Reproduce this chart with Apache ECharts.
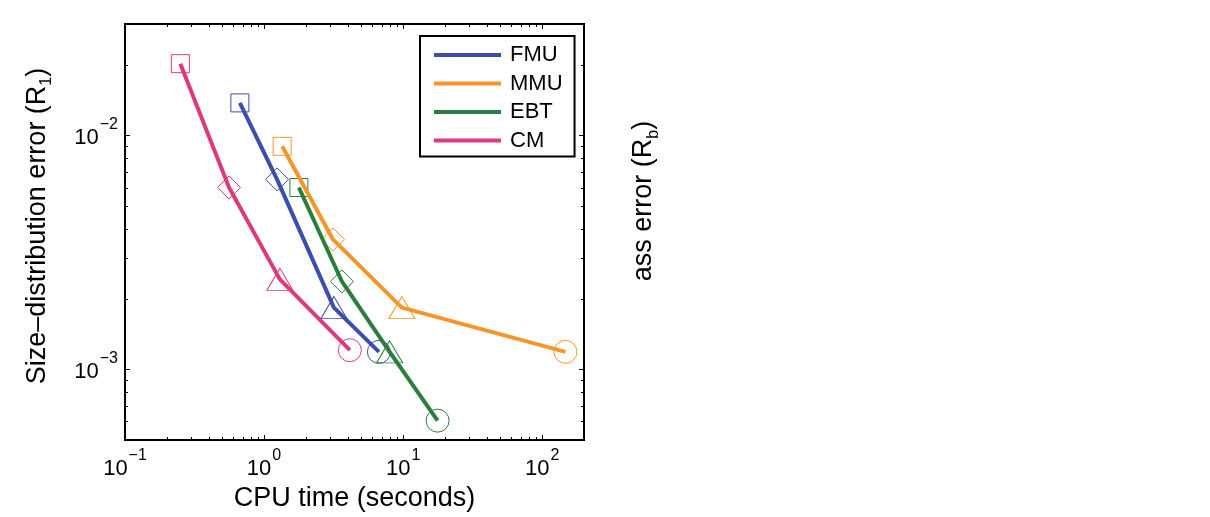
<!DOCTYPE html>
<html><head><meta charset="utf-8">
<script src="https://cdn.jsdelivr.net/npm/echarts@6/dist/echarts.min.js"></script>
<style>html,body{margin:0;padding:0;background:#fff}#c{width:1210px;height:517px}</style>
</head><body><div id="c"></div>
<script>
// ---- data ----
const methods = ['FMU', 'MMU', 'EBT', 'CM'];
const cpuFMU = [0.67, 1.24, 3.18, 6.7];
const errFMU = [0.0138, 0.0065, 0.00184, 0.00119];
const cpuMMU = [1.35, 3.13, 9.8, 147];
const errMMU = [0.0090, 0.0036, 0.00184, 0.00119];
const cpuEBT = [1.78, 3.63, 8.0, 17.7];
const errEBT = [0.0060, 0.00238, 0.00119, 0.000605];
const cpuCM = [0.25, 0.56, 1.30, 4.14];
const errCM = [0.0203, 0.0060, 0.00243, 0.00121];
const xTickExponents = [-1, 0, 1, 2];
const yTickExponents = [-3, -2];
const minorMultipliers = [2, 3, 4, 5, 6, 7, 8, 9];
const xLabel = 'CPU time (seconds)';
const yLabelMain = 'Size\u2013distribution error (R';
const yLabelSub = '1';
const y2LabelMain = 'ass error (R';
const y2LabelSub = 'b';

// ---- style ----
const FONT = '"Liberation Sans", Arial, Helvetica, sans-serif';
const colors = {FMU: '#3d4dab', MMU: '#f5962b', EBT: '#2b7d3e', CM: '#db3a7b'};
const stageSymbols = ['rect', 'diamond', 'triangle', 'circle'];
const stageSizes = [[18, 18], [23, 23], [26, 22], [23, 23]];
const X_MIN = 0.1, X_MAX = 200, Y_MIN = 5e-4, Y_MAX = 3e-2;

const seriesData = {
  FMU: [cpuFMU, errFMU], MMU: [cpuMMU, errMMU], EBT: [cpuEBT, errEBT], CM: [cpuCM, errCM]
};

function isPow(v, exps) {
  const l = Math.log10(v), e = Math.round(l);
  return Math.abs(l - e) < 1e-6 && exps.indexOf(e) >= 0 ? e : null;
}
function fmt(exps) {
  return function (v) {
    const e = isPow(v, exps);
    if (e === null) return '';
    return '{b|10}{s|' + String(e).replace('-', '\u2212') + '}';
  };
}
const tickRich = {
  b: {fontSize: 22, fontFamily: FONT, color: '#000', lineHeight: 32, verticalAlign: 'bottom'},
  s: {fontSize: 16, fontFamily: FONT, color: '#000', lineHeight: 16, verticalAlign: 'top', padding: [0, 0, 0, 1]}
};

const series = [];
methods.forEach(m => {
  const [xs, ys] = seriesData[m];
  series.push({
    name: m, type: 'line', symbol: 'none', xAxisIndex: 0, yAxisIndex: 0,
    data: xs.map((x, i) => [x, ys[i]]),
    lineStyle: {color: colors[m], width: 4},
    itemStyle: {color: colors[m]},
    z: 3, silent: true
  });
});
methods.forEach(m => {
  const [xs, ys] = seriesData[m];
  series.push({
    name: m + ' markers', type: 'scatter', xAxisIndex: 0, yAxisIndex: 0,
    data: xs.map((x, i) => ({value: [x, ys[i]], symbol: stageSymbols[i], symbolSize: stageSizes[i]})),
    itemStyle: {color: 'rgba(0,0,0,0)', borderColor: colors[m], borderWidth: 1, opacity: 1},
    z: 2, silent: true
  });
});
// minor ticks (log-spaced) on all four sides
const minorX = [], minorY = [];
for (let e = -1; e <= 2; e++) minorMultipliers.forEach(k => { const v = k * Math.pow(10, e); if (v < X_MAX) minorX.push(v); });
for (let e = -4; e <= -2; e++) minorMultipliers.forEach(k => { const v = k * Math.pow(10, e); if (v > Y_MIN && v < Y_MAX) minorY.push(v); });
series.push({
  type: 'custom', xAxisIndex: 0, yAxisIndex: 0, silent: true, z: 1,
  data: [[1, 1e-3]],
  renderItem: function (params, api) {
    const cs = params.coordSys;
    const L = 3, children = [];
    const st = {stroke: '#000', lineWidth: 1};
    minorX.forEach(v => {
      const px = Math.round(api.coord([v, 1e-3])[0]) + 0.5;
      children.push({type: 'line', shape: {x1: px, y1: cs.y + cs.height, x2: px, y2: cs.y + cs.height - L}, style: st});
      children.push({type: 'line', shape: {x1: px, y1: cs.y, x2: px, y2: cs.y + L}, style: st});
    });
    minorY.forEach(v => {
      const py = Math.round(api.coord([1, v])[1]) + 0.5;
      children.push({type: 'line', shape: {x1: cs.x, y1: py, x2: cs.x + L, y2: py}, style: st});
      children.push({type: 'line', shape: {x1: cs.x + cs.width, y1: py, x2: cs.x + cs.width - L, y2: py}, style: st});
    });
    return {type: 'group', children: children};
  }
});

const axisCommon = {
  splitLine: {show: false},
  axisLine: {show: false},
  axisTick: {show: true, inside: true, length: 5, lineStyle: {color: '#000', width: 1}},
  minorTick: {show: false}
};

const option = {
  animation: false,
  textStyle: {fontFamily: FONT},
  grid: {left: 125, top: 24, width: 459, height: 416, show: true, borderColor: '#000', borderWidth: 2, backgroundColor: 'transparent'},
  legend: {
    data: methods, orient: 'vertical', left: 420, top: 36,
    icon: 'rect', itemWidth: 67, itemHeight: 4, itemGap: 6.5,
    padding: [8, 12, 5, 14],
    borderColor: '#000', borderWidth: 2, backgroundColor: '#fff',
    textStyle: {fontSize: 22, fontFamily: FONT, color: '#000', lineHeight: 22, padding: [0, 0, 0, 4]},
    selectedMode: false
  },
  xAxis: [
    Object.assign({}, axisCommon, {
      type: 'log', logBase: 10, min: X_MIN, max: X_MAX, position: 'bottom',
      name: xLabel, nameLocation: 'middle', nameGap: 42,
      nameTextStyle: {fontSize: 27, fontFamily: FONT, color: '#000'},
      axisLabel: {formatter: fmt(xTickExponents), margin: 8, rich: tickRich, color: '#000', showMinLabel: true, showMaxLabel: true}
    }),
    Object.assign({}, axisCommon, {
      type: 'log', logBase: 10, min: X_MIN, max: X_MAX, position: 'top', gridIndex: 0,
      axisLabel: {show: false}
    })
  ],
  yAxis: [
    Object.assign({}, axisCommon, {
      type: 'log', logBase: 10, min: Y_MIN, max: Y_MAX, position: 'left',
      name: '{n|' + yLabelMain + '}{sub|' + yLabelSub + '}{n|)}', nameLocation: 'middle', nameGap: 70, nameRotate: 90,
      nameTextStyle: {fontSize: 27, fontFamily: FONT, color: '#000', padding: [0, 0, 0, 12], rich: {
        n: {fontSize: 27, fontFamily: FONT, color: '#000', lineHeight: 31, verticalAlign: 'top'},
        sub: {fontSize: 16, fontFamily: FONT, color: '#000', lineHeight: 16, verticalAlign: 'bottom'}
      }},
      axisLabel: {formatter: fmt(yTickExponents), margin: 7, padding: [0, 0, 6, 0], rich: tickRich, color: '#000', align: 'right', showMinLabel: true, showMaxLabel: true}
    }),
    Object.assign({}, axisCommon, {
      type: 'log', logBase: 10, min: Y_MIN, max: Y_MAX, position: 'right', gridIndex: 0,
      axisLabel: {show: false}
    })
  ],
  graphic: [{
    type: 'text', x: 646, y: 201, rotation: Math.PI / 2, silent: true,
    style: {
      text: '{n|' + y2LabelMain + '}{sub|' + y2LabelSub + '}{n|)}',
      align: 'center', verticalAlign: 'middle',
      rich: {
        n: {fontSize: 27, fontFamily: FONT, fill: '#000', lineHeight: 31, verticalAlign: 'top'},
        sub: {fontSize: 16, fontFamily: FONT, fill: '#000', lineHeight: 16, verticalAlign: 'bottom'}
      }
    }
  }],
  series: series
};
const chart = echarts.init(document.getElementById('c'), null, {renderer: 'canvas'});
chart.setOption(option);
</script>
</body></html>
